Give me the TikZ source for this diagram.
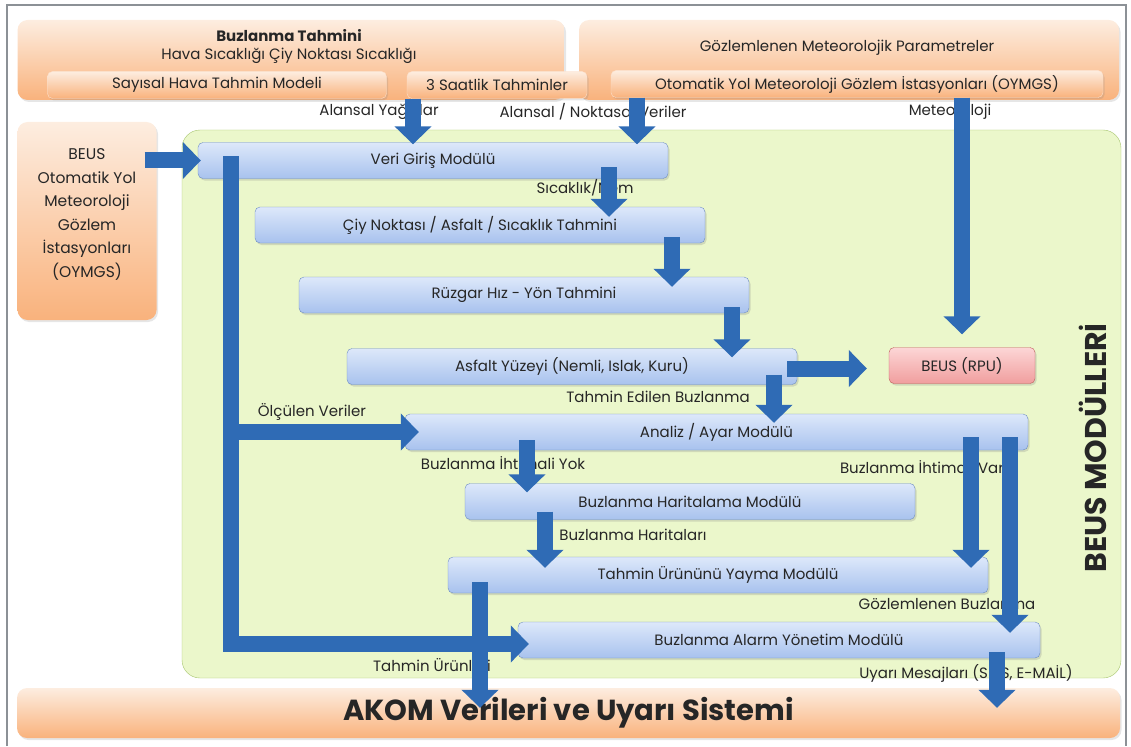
\documentclass[tikz,border=0pt]{standalone}
\usepackage{fontspec}
\setmainfont{Poppins}
\usetikzlibrary{positioning,arrows.meta,shadows}

\definecolor{textGray}{HTML}{262626}
\definecolor{moduleTop}{HTML}{DDE8FA}
\definecolor{moduleBottom}{HTML}{A8C2EE}
\definecolor{moduleEdge}{HTML}{6F8EC2}
\definecolor{sourceTop}{HTML}{FDEDE0}
\definecolor{sourceBottom}{HTML}{F9B27C}
\definecolor{panelFill}{HTML}{EBF7CB}
\definecolor{panelEdge}{HTML}{A6C46E}
\definecolor{rpuTop}{HTML}{FCD6D6}
\definecolor{rpuBottom}{HTML}{F09E9E}
\definecolor{rpuEdge}{HTML}{C0605D}
\definecolor{flowBlue}{HTML}{2F6BB5}
\definecolor{frameGray}{HTML}{8C9196}

\begin{document}
\begin{tikzpicture}[x=1pt,y=-1pt,
  every node/.style={text=textGray,font=\fontsize{15}{18}\selectfont},
  module/.style={draw=moduleEdge,rounded corners=5pt,top color=moduleTop,
    bottom color=moduleBottom,minimum height=36pt,inner sep=0pt,
    drop shadow={opacity=0.25,shadow xshift=1.5pt,shadow yshift=-2pt}},
  source/.style={rounded corners=10pt,top color=sourceTop,bottom color=sourceBottom,
    inner sep=0pt,drop shadow={opacity=0.2,shadow xshift=1.5pt,shadow yshift=-2pt}},
  subsource/.style={source,rounded corners=5pt,draw=white!60!sourceBottom,minimum height=27pt},
  flow/.style={draw=flowBlue,line width=16pt,line join=miter,-{Triangle[width=36pt,length=18pt]}},
  flowLabel/.style={inner sep=1pt}]
  \useasboundingbox (0,0) rectangle (1131,746);
  \draw[frameGray,line width=1.5pt] (7,746) -- (7,5) -- (1126,5) -- (1126,746);

  % sources on top and left
  \node[source,minimum width=547pt,minimum height=80pt] (tahminBox) at (291,60) {};
  \node[source,minimum width=540pt,minimum height=80pt] (gozlemBox) at (849,60) {};
  \node[align=center,font=\fontsize{15}{18}\selectfont] (tahminTitle) at (289,47)
    {\textbf{Buzlanma Tahmini}\\Hava Sıcaklığı Çiy Noktası Sıcaklığı};
  \node (gozlemTitle) at (847,48) {Gözlemlenen  Meteorolojik Parametreler};
  \node[subsource,minimum width=339pt] (sayisalModel) at (217,85) {Sayısal Hava Tahmin Modeli};
  \node[subsource,minimum width=180pt] (saatlik) at (497,85) {3 Saatlik Tahminler};
  \node[subsource,minimum width=492pt] (oymgs) at (857,84)
    {Otomatik Yol Meteoroloji Gözlem İstasyonları (OYMGS)};
  \node[source,minimum width=139pt,minimum height=198pt,align=center,
    font=\fontsize{15.5}{23.5}\selectfont] (beusLeft) at (87,221)
    {BEUS\\Otomatik Yol\\Meteoroloji\\Gözlem\\İstasyonları\\(OYMGS)\\[-8pt]};

  % module panel
  \node[draw=panelEdge,fill=panelFill,rounded corners=18pt,minimum width=939pt,
    minimum height=548pt] (moduller) at (651.5,404) {};
  \node[rotate=90,font=\fontsize{30}{34}\selectfont\bfseries] (modTitle) at (1093,448)
    {BEUS MODÜLLERİ};

  \node[module,minimum width=470pt] (veriGiris) at (433,160.5) {Veri Giriş Modülü};
  \node[module,minimum width=450pt] (ciyNoktasi) at (480,225)
    {Çiy Noktası / Asfalt / Sıcaklık Tahmini};
  \node[module,minimum width=450pt] (ruzgar) at (524,295) {Rüzgar Hız  - Yön Tahmini};
  \node[module,minimum width=450pt] (asfalt) at (572,366.5) {Asfalt Yüzeyi (Nemli, Islak, Kuru)};
  \node[module,draw=rpuEdge,top color=rpuTop,bottom color=rpuBottom,minimum width=146pt]
    (beusRpu) at (962,365.5) {BEUS  (RPU)};
  \node[module,minimum width=623pt] (analiz) at (716.5,432) {Analiz / Ayar Modülü};
  \node[module,minimum width=450pt] (haritalama) at (690,501.5) {Buzlanma Haritalama Modülü};
  \node[module,minimum width=540pt] (yayma) at (718,575) {Tahmin Ürününü Yayma Modülü};
  \node[module,minimum width=522pt] (alarm) at (779,640) {Buzlanma Alarm Yönetim Modülü};

  \node[source,minimum width=1103pt,minimum height=50pt,
    font=\fontsize{29}{33}\selectfont\bfseries] (akom) at (568.5,713)
    {AKOM Verileri ve Uyarı Sistemi};

  % labels
  \node[flowLabel] (alansalYagis) at (379,112) {Alansal Yağışlar};
  \node[flowLabel] (alansalNokta) at (593,112) {Alansal / Noktasal Veriler};
  \node[flowLabel] (meteoroloji) at (950,112) {Meteoroloji};
  \node[flowLabel] (sicaklikNem) at (585,188) {Sıcaklık/Nem};
  \node[flowLabel] (tahminEdilen) at (658,397) {Tahmin Edilen Buzlanma};
  \node[flowLabel] (olculen) at (312,412) {Ölçülen Veriler};
  \node[flowLabel] (ihtimalYok) at (503,463) {Buzlanma İhtimali Yok};
  \node[flowLabel] (ihtimalVar) at (922,467) {Buzlanma İhtimali Var};
  \node[flowLabel] (haritalar) at (633,535) {Buzlanma Haritaları};
  \node[flowLabel] (gozlemBuz) at (947,604) {Gözlemlenen  Buzlanma};
  \node[flowLabel] (tahminUrun) at (432,665) {Tahmin Ürünleri};
  \node[flowLabel] (uyari) at (966,673) {Uyarı Mesajları (SMS, E-MAİL)};

  % flows
  \draw[flow] ([xshift=-20pt]veriGiris.north |- saatlik.south)
    -- ([xshift=-20pt,yshift=-2pt]veriGiris.north);
  \draw[flow] ([xshift=204pt]veriGiris.north |- oymgs.south)
    -- ([xshift=204pt,yshift=-2pt]veriGiris.north);
  \draw[flow] (beusRpu.north |- oymgs.south) -- ([yshift=13pt]beusRpu.north);
  \draw[flow] ([xshift=-12pt]beusLeft.east |- veriGiris.west) -- ([xshift=3pt]veriGiris.west);
  \draw[flow] ([xshift=176pt,yshift=-7pt]veriGiris.center)
    -- ([xshift=129pt,yshift=-10pt]ciyNoktasi.north);
  \draw[flow] ([xshift=192pt,yshift=-12pt]ciyNoktasi.center)
    -- ([xshift=148pt,yshift=-10pt]ruzgar.north);
  \draw[flow] ([xshift=208pt,yshift=-12pt]ruzgar.center)
    -- ([xshift=160pt,yshift=-9pt]asfalt.north);
  \draw[flow] ([xshift=-10pt,yshift=-2pt]asfalt.east) -- ([xshift=-22pt,yshift=-3pt]beusRpu.west);
  \draw[flow] ([xshift=202pt,yshift=-8pt]asfalt.center)
    -- ([xshift=57.5pt,yshift=-9pt]analiz.north);
  \draw[flow] ([xshift=33pt,yshift=4pt]veriGiris.west) |- ([xshift=11pt,yshift=-4pt]alarm.west);
  \draw[flow] ([xshift=33pt]veriGiris.west |- analiz.west) -- ([xshift=14pt]analiz.west);
  \draw[flow] ([xshift=-189.5pt,yshift=-8pt]analiz.center)
    -- ([xshift=-163pt,yshift=-9pt]haritalama.north);
  \draw[flow] ([xshift=-145pt,yshift=-10pt]haritalama.center)
    -- ([xshift=-173pt,yshift=-11pt]yayma.north);
  \draw[flow] ([xshift=254.5pt,yshift=-5pt]analiz.center)
    -- ([xshift=253pt,yshift=-11pt]yayma.north);
  \draw[flow] ([xshift=293.5pt,yshift=-5pt]analiz.center)
    -- ([xshift=231pt,yshift=-11pt]alarm.north);
  \draw[flow] ([xshift=-238pt,yshift=-7pt]yayma.center)
    -- ([xshift=-88.5pt,yshift=-20pt]akom.north);
  \draw[flow] ([xshift=218pt,yshift=-12pt]alarm.center)
    -- ([xshift=428.5pt,yshift=-20pt]akom.north);
\end{tikzpicture}
\end{document}
